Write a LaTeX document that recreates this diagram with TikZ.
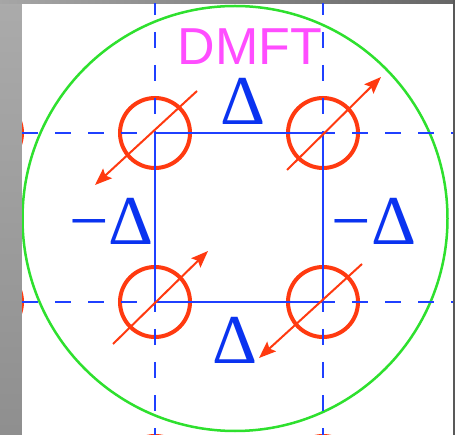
\documentclass[tikz,border=0pt]{standalone}
\usepackage{fontspec}
\newfontfamily\serifD{Liberation Serif}
\newfontfamily\sansD{Liberation Sans}
\usetikzlibrary{arrows.meta}
\definecolor{dblue}{HTML}{1F40FF}
\definecolor{dred}{HTML}{FF3A10}
\definecolor{dgreen}{HTML}{2EE02E}
\definecolor{dmag}{HTML}{FF4DFF}
\definecolor{dtext}{HTML}{0A33F0}
\tikzset{
  site/.style={draw=dred, line width=4pt},
  dashline/.style={draw=dblue, line width=2pt, dash pattern=on 16pt off 17pt},
  bond/.style={draw=dblue, line width=2pt},
  spin/.style={draw=dred, line width=2pt, -{Stealth[length=17pt,width=13pt,inset=3pt]}, fill=dred},
  gap/.style={text=dtext, font=\serifD\fontsize{70}{70}\selectfont, inner sep=0pt, anchor=base},
}
\begin{document}
\begin{tikzpicture}[x=1pt,y=-1pt]
\useasboundingbox (0,0) rectangle (455,435);
% frame
\shade[top color=black!33, bottom color=black!44] (0,0) rectangle (22,435);
\shade[left color=black!35, right color=black!60] (0,0) rectangle (455,4);
\fill[white] (22,4) rectangle (453,435);
\fill[black!65] (453,0) rectangle (455,435);
\begin{scope}
\clip (22,4) rectangle (453,435);
% green circle
\draw[dgreen, line width=2.5pt] (235,218.5) circle (212.5);
% red sites (lattice)
\foreach \x in {-13,155,323,491}
  \foreach \y in {-36,133,302,471}
    \draw[site] (\x,\y) circle (35);
% blue lines
\draw[dashline] (155,-1) -- (155,440);
\draw[dashline] (323,-1) -- (323,440);
\draw[dashline] (22,133) -- (460,133);
\draw[dashline] (22,302) -- (460,302);
\coordinate (s1) at (155,133);
\coordinate (s2) at (323,133);
\coordinate (s3) at (323,302);
\coordinate (s4) at (155,302);
\draw[bond] (s1) -- (s2) -- (s3) -- (s4) -- cycle;
% spins
\coordinate (a1) at (197,91);  \coordinate (b1) at (95,185);
\coordinate (a2) at (287,170); \coordinate (b2) at (381,77);
\coordinate (a3) at (113,344); \coordinate (b3) at (208,251);
\coordinate (a4) at (362,264); \coordinate (b4) at (259,358);
\draw[spin] (a1) -- (b1);
\draw[spin] (a2) -- (b2);
\draw[spin] (a3) -- (b3);
\draw[spin] (a4) -- (b4);
\end{scope}
% labels
\node[text=dmag, font=\sansD\fontsize{52}{52}\selectfont, inner sep=0pt, anchor=base] (dmft) at (250,65) {DMFT};
\node[gap] (dtop) at (243,125) {Δ};
\node[gap] (dbot) at (235,363) {Δ};
\node[gap] (dleft) at (111.5,245) {−Δ};
\node[gap] (dright) at (374,245) {−Δ};
\end{tikzpicture}
\end{document}
